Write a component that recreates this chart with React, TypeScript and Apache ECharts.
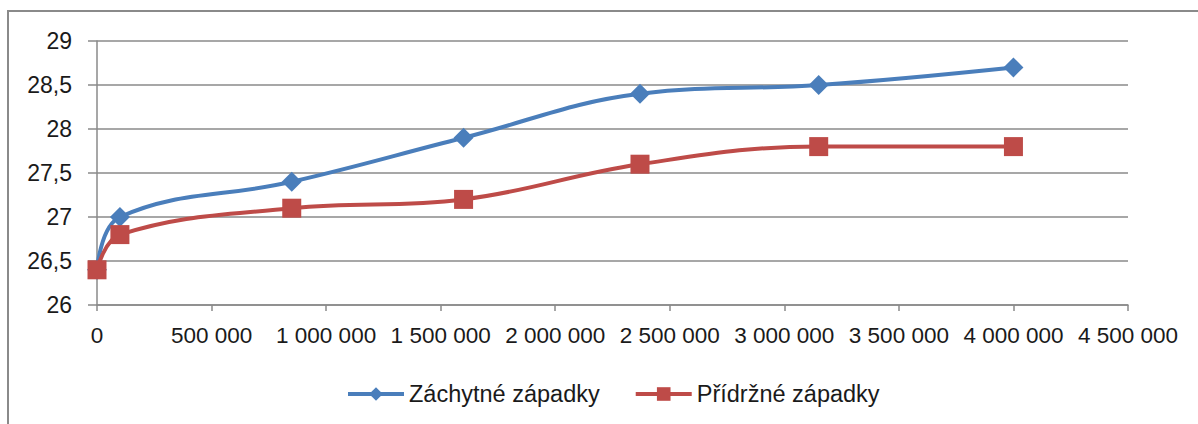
import React, { useEffect, useRef } from "react";
import * as echarts from "echarts";

const xValues = [0, 100000, 850000, 1600000, 2370000, 3150000, 4000000];
const zachytne = [26.4, 27.0, 27.4, 27.9, 28.4, 28.5, 28.7];
const pridrzne = [26.4, 26.8, 27.1, 27.2, 27.6, 27.8, 27.8];
const seriesNames = ["Záchytné západky", "Přídržné západky"];

const FONT = "Liberation Sans";

function fmtX(v: number): string {
  return String(Math.round(v)).replace(/\B(?=(\d{3})+(?!\d))/g, " ");
}

export default function App() {
  const ref = useRef<HTMLDivElement>(null);
  useEffect(() => {
    if (!ref.current) return;
    const chart = echarts.init(ref.current, null, { renderer: "svg" });
    const mk = (vals: number[]) => xValues.map((x, i) => [x, vals[i]]);
    chart.setOption({
      animation: false,
      backgroundColor: "#ffffff",
      textStyle: { fontFamily: FONT },
      graphic: [
        {
          type: "rect",
          shape: { x: 8, y: 11, width: 1220, height: 440 },
          style: { fill: "none", stroke: "#8a8a8a", lineWidth: 2 },
          silent: true,
        },
      ],
      grid: { left: 97, right: 70, top: 41, bottom: 119, containLabel: false },
      legend: {
        left: 341,
        top: 377,
        itemWidth: 56,
        itemHeight: 17,
        itemGap: 34,
        lineStyle: { width: 4 },
        textStyle: { fontFamily: FONT, fontSize: 23.5, color: "#1a1a1a" },
        data: seriesNames,
      },
      xAxis: {
        type: "value",
        min: 0,
        max: 4500000,
        interval: 500000,
        axisLine: { show: true, lineStyle: { color: "#8a8a8a", width: 1.5 } },
        axisTick: { show: true, length: 6, inside: false, lineStyle: { color: "#8a8a8a", width: 1.5 } },
        splitLine: { show: false },
        axisLabel: {
          formatter: (v: number) => fmtX(v),
          fontFamily: FONT,
          fontSize: 22.5,
          color: "#1a1a1a",
          margin: 19,
        },
      },
      yAxis: {
        type: "value",
        min: 26,
        max: 29,
        interval: 0.5,
        axisLine: { show: true, lineStyle: { color: "#8a8a8a", width: 1.5 } },
        axisTick: { show: true, length: 9, lineStyle: { color: "#8a8a8a", width: 1.5 } },
        splitLine: { show: true, lineStyle: { color: "#8a8a8a", width: 1.5 } },
        axisLabel: {
          formatter: (v: number) => String(v).replace(".", ","),
          fontFamily: FONT,
          fontSize: 23,
          color: "#1a1a1a",
          margin: 25,
        },
      },
      series: [
        {
          name: seriesNames[0],
          type: "line",
          data: mk(zachytne),
          smooth: 0.4,
          symbol: "diamond",
          symbolSize: 20,
          lineStyle: { color: "#4a7ebb", width: 4 },
          itemStyle: { color: "#4a7ebb" },
          z: 2,
        },
        {
          name: seriesNames[1],
          type: "line",
          data: mk(pridrzne),
          smooth: 0.4,
          symbol: "rect",
          symbolSize: 19,
          lineStyle: { color: "#be4b48", width: 4 },
          itemStyle: { color: "#be4b48" },
          z: 3,
        },
      ],
    });
    return () => chart.dispose();
  }, []);
  return (
    <div
      ref={ref}
      style={{ position: "fixed", left: 0, top: 0, width: 1198, height: 424 }}
    />
  );
}
